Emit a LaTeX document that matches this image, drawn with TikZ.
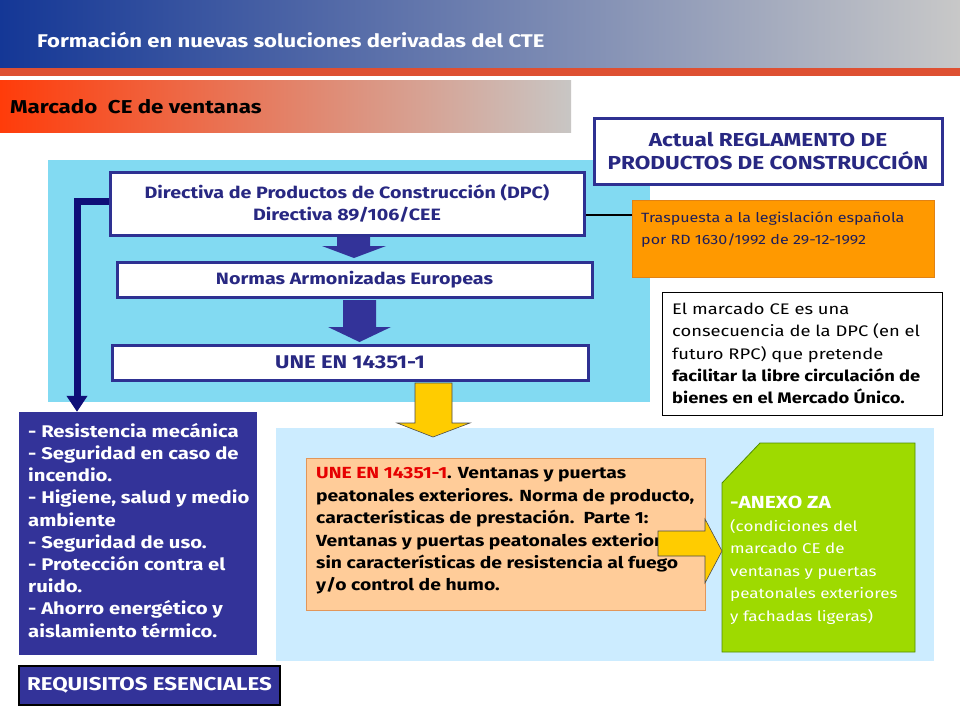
\documentclass[tikz,border=0pt]{standalone}
\usepackage{fontspec}
\setmainfont[FakeStretch=1.2]{Fira Sans}
\usetikzlibrary{arrows.meta}
\definecolor{hdrL}{RGB}{20,55,150}
\definecolor{hdrM}{RGB}{85,115,175}
\definecolor{hdrR}{RGB}{200,200,200}
\definecolor{redline}{RGB}{222,80,50}
\definecolor{mkL}{RGB}{255,60,10}
\definecolor{mkM}{RGB}{238,140,110}
\definecolor{mkR}{RGB}{200,198,196}
\definecolor{navyb}{RGB}{46,49,146}
\definecolor{navyt}{RGB}{40,40,130}
\definecolor{connc}{RGB}{15,15,120}
\definecolor{reqf}{RGB}{51,51,153}
\definecolor{cyanp}{RGB}{130,218,242}
\definecolor{lightp}{RGB}{204,236,255}
\definecolor{peach}{RGB}{255,204,153}
\definecolor{peachb}{RGB}{225,150,90}
\definecolor{orng}{RGB}{255,153,0}
\definecolor{orngb}{RGB}{225,130,20}
\definecolor{trtext}{RGB}{30,30,90}
\definecolor{grn}{RGB}{158,218,0}
\definecolor{grnb}{RGB}{80,140,0}
\definecolor{yel}{RGB}{255,204,0}
\definecolor{redt}{RGB}{230,0,0}
\tikzset{
  navybox/.style={draw=navyb, line width=3pt, fill=white, text=navyt, inner sep=0pt,
    font=\bfseries\fontsize{16.4}{22}\selectfont, align=center},
  bluearrow/.style={fill=reqf, draw=none},
  yelarrow/.style={fill=yel, draw=black!70, line width=0.6pt},
  conn/.style={draw=connc, line width=7pt},
  txt/.style={inner sep=0pt, align=left, anchor=north west}
}
\begin{document}
\begin{tikzpicture}[x=1pt,y=-1pt]
\useasboundingbox (0,0) rectangle (960,720);
\fill[white] (0,0) rectangle (960,720);
% header
\shade[left color=hdrL, middle color=hdrM, right color=hdrR] (0,0) rectangle (960,68);
\fill[redline] (0,68) rectangle (960,76);
\node[anchor=west, inner sep=0pt, text=white, font=\bfseries\fontsize{18.4}{22}\selectfont] (title) at (37,40) {Formación en nuevas soluciones derivadas del CTE};
% marcado bar
\shade[left color=mkL, middle color=mkM, right color=mkR] (0,80) rectangle (571,132);
\node[anchor=west, inner sep=0pt, text=black, font=\bfseries\fontsize{18.6}{22}\selectfont] (marc) at (10,107) {Marcado\ \ CE de ventanas};
% panels
\fill[cyanp] (48,160) rectangle (650,402);
\fill[lightp] (276,428) rectangle (934,661);
% reglamento
\node[navybox, font=\bfseries\fontsize{18.8}{23}\selectfont, minimum width=348pt, minimum height=66pt] (regl) at (768,151) {Actual REGLAMENTO DE\\PRODUCTOS DE CONSTRUCCIÓN};
% blue arrows
\path[bluearrow] (337,222) -- (370,222) -- (370,246) -- (386,246) -- (354,258) -- (322,246) -- (337,246) -- cycle;
\path[bluearrow] (343,300) -- (376,300) -- (376,327) -- (391,327) -- (359.5,342) -- (328,327) -- (343,327) -- cycle;
% main boxes
\node[navybox, minimum width=474pt, minimum height=63pt] (dpc) at (347,203.5) {Directiva de Productos de Construcción (DPC)\\Directiva 89/106/CEE};
\node[navybox, minimum width=475pt, minimum height=35pt] (norm) at (354.5,279.5) {Normas Armonizadas Europeas};
\node[navybox, font=\bfseries\fontsize{18.4}{22}\selectfont, minimum width=476pt, minimum height=35pt] (une) at (350,362.5) {UNE EN 14351-1};
% traspuesta
\node[fill=orng, draw=orngb, line width=0.6pt, minimum width=302pt, minimum height=77pt, inner sep=0pt] (trasp) at (783,238.5) {};
\node[txt, text=trtext, font=\fontsize{13.4}{22}\selectfont] (trasptxt) at (641,212) {Traspuesta a la legislación española\\por RD 1630/1992 de 29-12-1992};
\coordinate (ly) at (0,215);
\draw[black, line width=2.5pt] (dpc.east |- ly) -- (trasp.west |- ly);
% info box
\node[draw=black, line width=0.8pt, fill=white, minimum width=280pt, minimum height=123pt, inner sep=0pt] (info) at (802,353.5) {};
\node[txt, text=black, font=\fontsize{15.3}{22.3}\selectfont] (infotxt) at (672,303) {El marcado CE es una\\consecuencia de la DPC (en el\\futuro RPC) que pretende\\\textbf{facilitar la libre circulación de}\\\textbf{bienes en el Mercado Único.}};
% yellow down arrow
\path[yelarrow] (415,383) -- (452,383) -- (452,423) -- (470,423) -- (433,437) -- (397,423) -- (415,423) -- cycle;
% requisitos box
\node[fill=reqf, minimum width=238pt, minimum height=243pt, inner sep=0pt] (req) at (138,533.5) {};
\node[txt, text=white, font=\bfseries\fontsize{16.9}{22.2}\selectfont] (reqtxt) at (28,423) {- Resistencia mecánica\\- Seguridad en caso de\\incendio.\\- Higiene, salud y medio\\ambiente\\- Seguridad de uso.\\- Protección contra el\\ruido.\\- Ahorro energético y\\aislamiento térmico.};
\node[fill=reqf, draw=black, line width=1.5pt, minimum width=261pt, minimum height=39pt, inner sep=0pt, text=white, font=\bfseries\fontsize{18.6}{20}\selectfont] (reqlab) at (149.5,685.5) {REQUISITOS ESENCIALES};
% connector
\coordinate (cA) at (77,201);
\draw[conn, -{Triangle[width=20pt,length=16pt]}] (dpc.west |- cA) -- (cA) -- (cA |- req.north);
% peach box
\node[fill=peach, draw=peachb, line width=0.8pt, minimum width=399pt, minimum height=152pt, inner sep=0pt] (peachbox) at (505.5,534) {};
\node[txt, text=black, font=\bfseries\fontsize{16.1}{22.4}\selectfont] (peachtxt) at (316,467.5) {\textcolor{redt}{UNE EN 14351-1}. Ventanas y puertas\\peatonales exteriores. Norma de producto,\\características de prestación.\ \ Parte 1:\\Ventanas y puertas peatonales exteriores\\sin características de resistencia al fuego\\y/o control de humo.};
% green box
\draw[fill=grn, draw=grnb, line width=0.8pt] (722,483) -- (760,443) -- (915,443) -- (915,652) -- (722,652) -- cycle;
\node[txt, text=white, font=\fontsize{14.2}{22.5}\selectfont] (grntxt) at (730,496) {{\bfseries\fontsize{17.5}{22.5}\selectfont -ANEXO ZA}\\(condiciones del\\marcado CE de\\ventanas y puertas\\peatonales exteriores\\y fachadas ligeras)};
% yellow right arrow
\path[yelarrow] (658,531) -- (705,531) -- (705,519) -- (722,551) -- (705,583) -- (705,556) -- (658,556) -- cycle;
\end{tikzpicture}
\end{document}
